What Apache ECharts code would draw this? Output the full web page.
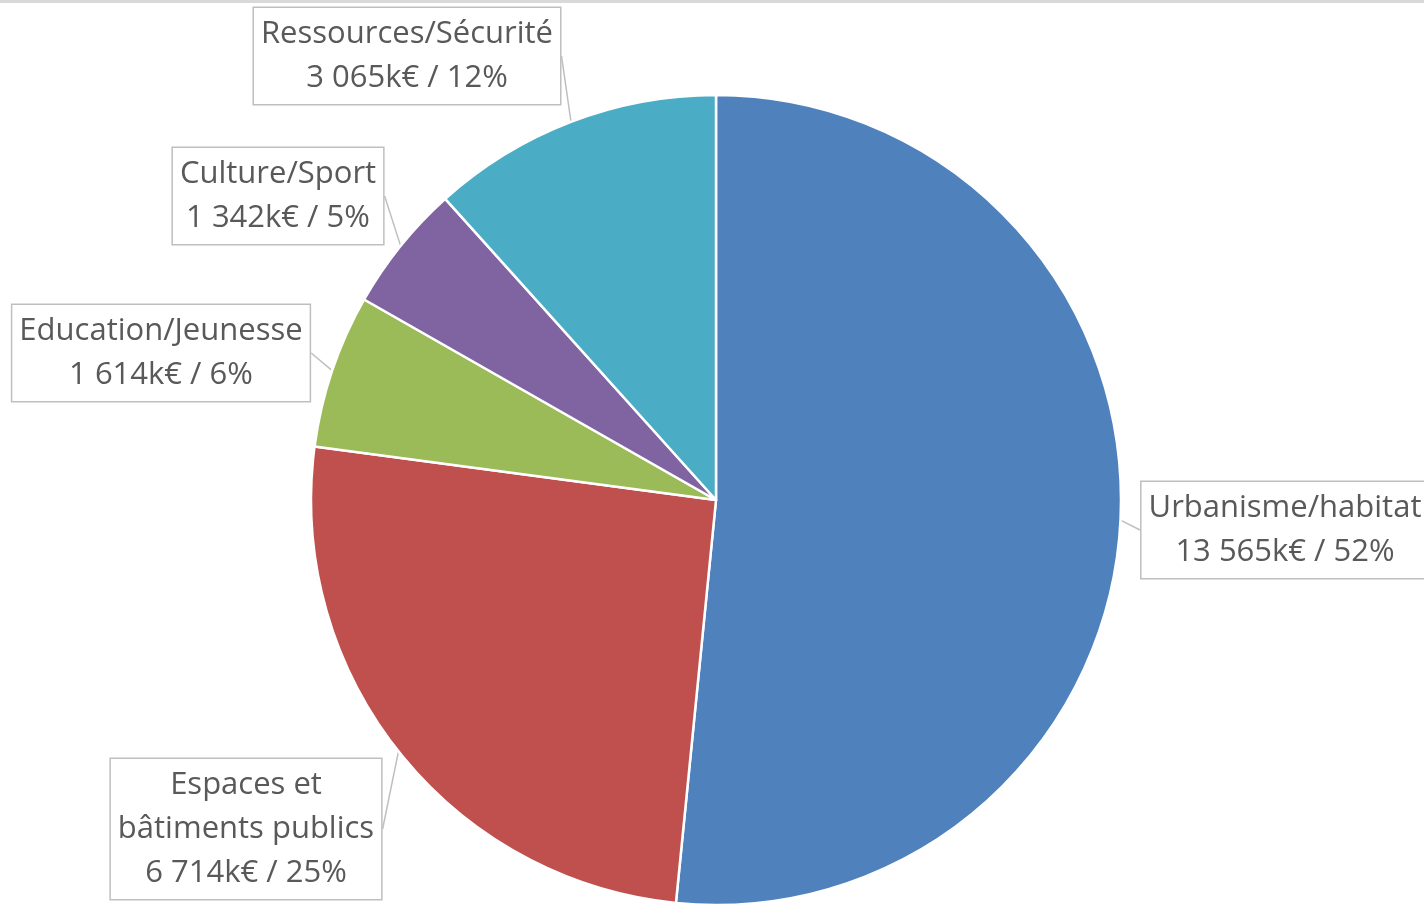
<!DOCTYPE html>
<html>
<head>
<meta charset="utf-8">
<script src="https://cdn.jsdelivr.net/npm/echarts@6/dist/echarts.min.js"></script>
<style>
  html, body { margin: 0; padding: 0; background: #fff; }
  #chart { width: 1424px; height: 914px; }
</style>
</head>
<body>
<div id="chart"></div>
<script>
// données (k€)
const categories = ['Urbanisme/habitat', 'Espaces et\nbâtiments publics', 'Education/Jeunesse', 'Culture/Sport', 'Ressources/Sécurité']
const values = [13565, 6714, 1614, 1342, 3065]
const percents = [52, 25, 6, 5, 12]
const colors = ['#4F81BD', '#C0504D', '#9BBB59', '#8064A2', '#4BACC6']

// centre des étiquettes (x, y) en pixels
const labelPos = [[1285, 530], [246, 829], [161, 353], [278, 196], [407, 56]]

const fmt = v => String(v).replace(/\B(?=(\d{3})+(?!\d))/g, ' ')

const chart = echarts.init(document.getElementById('chart'))

const seriesData = categories.map((name, i) => ({
  name: name,
  value: values[i],
  itemStyle: { color: colors[i] }
}))

chart.setOption({
  animation: false,
  graphic: [{
    type: 'line',
    shape: { x1: 0, y1: 1.5, x2: 1424, y2: 1.5 },
    style: { stroke: '#d9d9d9', lineWidth: 3 }
  }],
  series: [{
    type: 'pie',
    center: [716, 500],
    radius: 405,
    startAngle: 90,
    clockwise: true,
    avoidLabelOverlap: false,
    data: seriesData,
    itemStyle: { borderColor: '#fff', borderWidth: 2.5 },
    label: {
      show: true,
      position: 'outside',
      formatter: p => p.name + '\n' + fmt(values[p.dataIndex]) + 'k€ / ' + percents[p.dataIndex] + '%',
      fontFamily: 'Open Sans',
      fontSize: 31,
      lineHeight: 44,
      color: '#595959',
      align: 'center',
      backgroundColor: '#fff',
      borderColor: '#bfbfbf',
      borderWidth: 1.5,
      padding: [4, 7]
    },
    labelLine: {
      show: true,
      length: 3,
      length2: 0,
      lineStyle: { color: '#bfbfbf', width: 1.5 }
    },
    labelLayout: params => ({
      x: labelPos[params.dataIndex][0],
      y: labelPos[params.dataIndex][1],
      align: 'center',
      verticalAlign: 'middle'
    })
  }]
})
</script>
</body>
</html>
